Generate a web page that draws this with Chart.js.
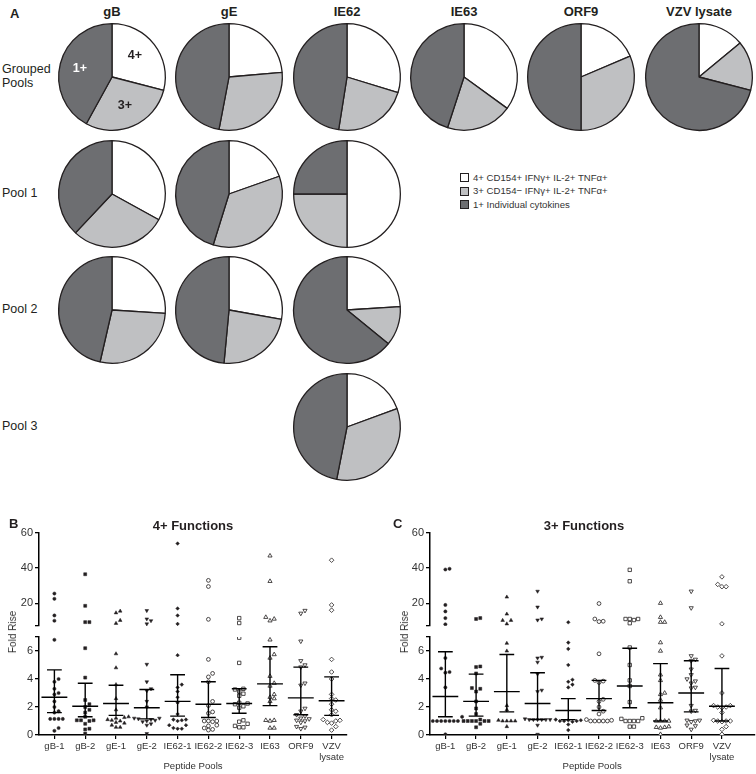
<!DOCTYPE html>
<html>
<head>
<meta charset="utf-8">
<title>VZV polyfunctional T-cell responses</title>
<script src="https://cdn.jsdelivr.net/npm/chart.js@4.4.1/dist/chart.umd.min.js"></script>
<style>
  html, body { margin:0; padding:0; background:#fff; }
  body { width:756px; height:774px; position:relative; overflow:hidden;
         font-family:'Liberation Sans', Arial, Helvetica, sans-serif; color:#231f20; }
  canvas { position:absolute; }
  .t { position:absolute; white-space:nowrap; line-height:1; }
  .c { transform:translate(-50%,-50%); }
  .l { transform:translate(0,-50%); }
  .b { font-weight:bold; }
  .box { position:absolute; width:7px; height:7px; border:1px solid #231f20; }
</style>
</head>
<body>
<script>
// ---------------- DATA ----------------
const antigens = ['gB', 'gE', 'IE62', 'IE63', 'ORF9', 'VZV lysate'];
const subsetLabels = ['4+ CD154+ IFNγ+ IL-2+ TNFα+', '3+ CD154− IFNγ+ IL-2+ TNFα+', '1+ Individual cytokines'];
const pieRowLabels = [['Grouped', 'Pools'], ['Pool 1'], ['Pool 2'], ['Pool 3']];
// percentages per antigen: [4+, 3+, 1+]
const groupedPools = [[29, 29, 42], [23.6, 29.4, 47], [29.7, 22.8, 47.5], [35, 20, 45], [18.6, 31.4, 50], [14, 15, 71]];
const pool1 = [[33, 29, 38], [19.6, 35.2, 45.2], [50, 25, 25]];
const pool2 = [[26, 27.6, 46.4], [27.8, 23.7, 48.5], [24, 11.9, 64.1]];
const pool3 = [null, null, [19.4, 33.7, 46.9]];

const peptidePools = ['gB-1', 'gB-2', 'gE-1', 'gE-2', 'IE62-1', 'IE62-2', 'IE62-3', 'IE63', 'ORF9', ['VZV', 'lysate']];
const yLowTicks = [0, 2, 4, 6];
const yHighTicks = [20, 40, 60];
const axisBreak = 7;

// Panel B: 4+ functions, fold rise per subject
const fold4 = [
  [25.5, 22.5, 13, 10, 6.8, 4.0, 3.8, 3.3, 3.0, 2.9, 2.4, 2.0, 1.7, 1.6, 1.15, 1.15, 1.15, 1.15, 0.5, 0.3],
  [36.5, 18.5, 9.2, 9.2, 6.2, 4.1, 2.5, 2.2, 2.0, 1.8, 1.6, 1.3, 1.05, 1.05, 1.05, 1.0, 0.8, 0.45, 0.4, 0.1],
  [15.5, 14.5, 10.2, 8.5, 5.8, 4.8, 3.6, 2.6, 1.8, 1.3, 1.25, 1.2, 1.1, 1.05, 1.0, 0.9, 0.85, 0.7, 0.55, 0.55],
  [15.8, 11, 10, 8.2, 5.05, 3.8, 3.3, 3.15, 2.4, 2.0, 1.2, 1.2, 1.15, 1.1, 1.05, 1.0, 0.95, 0.8, 0.7, 0.1],
  [54, 17, 13, 8.2, 5.7, 3.6, 3.4, 3.1, 2.7, 2.3, 1.5, 1.1, 1.1, 1.05, 1.0, 0.7, 0.7, 0.5, 0.45, 0.45],
  [33, 29.5, 10.8, 5.4, 4.4, 4.15, 3.8, 2.4, 2.1, 1.65, 1.55, 1.0, 1.0, 1.0, 0.95, 0.7, 0.65, 0.5, 0.4, 0.35],
  [11.5, 8.7, 6.95, 5.15, 3.3, 3.25, 3.1, 2.95, 2.8, 2.3, 2.25, 2.2, 2.05, 1.95, 1.05, 0.95, 0.8, 0.65, 0.55, 0.55],
  [47, 32.5, 12, 11, 10, 6.8, 5.75, 5.5, 4.2, 3.7, 3.5, 2.9, 2.7, 2.6, 2.4, 1.05, 1.0, 1.05, 0.5, 0.5],
  [15.8, 14.2, 6.7, 5.3, 5.0, 4.85, 3.7, 3.55, 1.9, 1.7, 1.45, 1.35, 1.2, 1.15, 1.05, 1.0, 0.9, 0.6, 0.55, 0.45],
  [44.5, 19, 16, 5.4, 4.5, 4.0, 2.9, 2.6, 2.5, 2.2, 1.8, 1.7, 1.45, 1.1, 1.05, 1.0, 0.9, 0.85, 0.6, 0.35]
];
const fold4Center = [2.7, 2.05, 2.25, 1.95, 2.4, 2.2, 2.25, 3.65, 2.65, 2.45];
const fold4High   = [4.65, 3.7, 3.55, 3.25, 4.3, 3.8, 3.3, 6.3, 4.85, 4.15];
const fold4Low    = [1.6, 1.3, 1.4, 1.15, 1.35, 1.25, 1.55, 2.1, 1.45, 1.4];

// Panel C: 3+ functions
const fold3 = [
  [39.2, 39.6, 19, 15.3, 11.5, 8, 5.5, 4.75, 4.5, 4.45, 3.4, 1.3, 1.0, 1.0, 1.0, 1.0, 1.0, 1.0, 1.0, 0.05],
  [11, 11.5, 4.9, 4.85, 4.4, 3.35, 3.3, 3.1, 2.4, 1.9, 1.5, 1.1, 1.0, 1.0, 1.0, 1.0, 1.0, 1.0, 0.8, 0.55],
  [23.5, 13.8, 10.2, 10.2, 8.2, 6.55, 6.0, 2.1, 1.8, 1.05, 1.0, 1.0, 1.0, 1.0, 0.6],
  [26.8, 17.8, 11, 10.4, 5.55, 5.5, 5.2, 4.35, 3.2, 3.1, 1.15, 1.1, 1.1, 1.1, 1.1, 1.1, 1.1, 0.7, 0.05],
  [9.1, 6.6, 6.15, 5.0, 3.95, 3.8, 3.6, 3.4, 1.1, 1.05, 1.05, 1.0, 1.0, 1.0, 0.95, 0.75, 0.35],
  [19.8, 11, 9.7, 9.5, 5.8, 3.9, 3.85, 3.75, 2.55, 2.4, 2.0, 1.7, 1.5, 1.1, 1.05, 1.0, 1.0, 1.0, 1.0, 1.0],
  [39, 32.5, 11, 11, 11, 10.4, 8.6, 6.25, 5.0, 3.9, 3.5, 2.35, 1.2, 1.15, 1.0, 1.0, 1.0, 1.0, 0.6, 0.6],
  [20, 12, 9.2, 9.2, 6.6, 6.0, 4.3, 3.9, 3.0, 2.9, 2.5, 1.95, 1.0, 1.0, 1.0, 1.0, 0.6, 0.55, 0.55, 0.5, 0.05],
  [26.8, 17.3, 5.65, 5.4, 5.3, 4.7, 4.3, 4.0, 3.85, 3.7, 3.4, 3.35, 2.1, 1.75, 1.7, 1.05, 1.0, 1.05, 0.95, 0.7, 0.65, 0.4],
  [35, 30.7, 29.4, 29.4, 8.2, 5.65, 3.0, 2.1, 2.1, 2.0, 2.0, 1.95, 1.6, 1.05, 1.0, 1.0, 1.0, 0.95, 0.6, 0.4, 0.05]
];
const fold3Center = [2.75, 2.4, 3.1, 2.25, 1.75, 2.6, 3.5, 2.3, 3.0, 2.05];
const fold3High   = [5.95, 4.35, 5.75, 4.45, 2.6, 3.9, 6.2, 5.1, 5.3, 4.75];
const fold3Low    = [1.3, 1.35, 1.65, 1.1, 1.1, 1.75, 1.95, 1.0, 1.65, 1.0];

// ---------------- STYLE / LAYOUT ----------------
const FONT = "'Liberation Sans', Arial, Helvetica, sans-serif";
Chart.defaults.font.family = FONT;
Chart.defaults.animation = false;
Chart.defaults.events = [];
Chart.defaults.plugins.legend.display = false;
Chart.defaults.plugins.tooltip.enabled = false;

const subsetColors = ['#ffffff', '#bfc0c2', '#6d6e71'];
const ink = '#231f20';
const pieColX = [112, 229, 347, 464, 581, 699];
const pieRowY = [77, 194, 310, 427];

function addText(txt, x, y, cls, size, extra) {
  const d = document.createElement('div');
  d.className = 't ' + cls;
  d.textContent = txt;
  d.style.left = x + 'px';
  d.style.top = y + 'px';
  d.style.fontSize = size + 'px';
  if (extra) Object.assign(d.style, extra);
  document.body.appendChild(d);
  return d;
}

function addCanvas(left, top, w, h) {
  const cv = document.createElement('canvas');
  cv.width = w; cv.height = h;
  cv.style.left = left + 'px'; cv.style.top = top + 'px';
  cv.style.width = w + 'px'; cv.style.height = h + 'px';
  document.body.appendChild(cv);
  return cv;
}

// ---------------- PANEL A: pies ----------------
function makePie(values, cx, cy) {
  const size = 114;
  const cv = addCanvas(cx - size / 2, cy - size / 2, size, size);
  new Chart(cv, {
    type: 'pie',
    data: { labels: subsetLabels, datasets: [{ data: values, backgroundColor: subsetColors,
            borderColor: ink, borderWidth: 1.3 }] },
    options: { responsive: false, devicePixelRatio: 1, layout: { padding: 3 } }
  });
}
const pieRows = [groupedPools, pool1, pool2, pool3];
pieRows.forEach((row, r) => {
  row.forEach((vals, c) => { if (vals) makePie(vals, pieColX[c], pieRowY[r]); });
});

addText('A', 10, 13, 'l b', 13);
antigens.forEach((a, i) => addText(a, pieColX[i], 11, 'c b', 13));
pieRowLabels.forEach((lines, r) => {
  const n = lines.length;
  lines.forEach((ln, k) => addText(ln, 2, pieRowY[r] - 1 + (k - (n - 1) / 2) * 14, 'l', 12.5));
});
// slice labels on the first pie
addText('4+', 135, 55, 'c b', 12.5);
addText('3+', 125, 105, 'c b', 12.5);
addText('1+', 80, 68, 'c b', 12.5, { color: '#fff' });

// legend
subsetLabels.forEach((lab, i) => {
  const y = 177.5 + i * 13.5;
  const bx = document.createElement('div');
  bx.className = 'box';
  bx.style.left = '460px'; bx.style.top = (y - 4.5) + 'px';
  bx.style.background = subsetColors[i];
  document.body.appendChild(bx);
  addText(lab, 473, y, 'l', 9.6, { color: '#333' });
});

// ---------------- PANELS B & C: scatter with broken axis ----------------
const markerStyles = [
  { pointStyle: 'circle', filled: true, r: 1.6 },
  { pointStyle: 'rect', filled: true, r: 2.1 },
  { pointStyle: 'triangle', filled: true, r: 2.1 },
  { pointStyle: 'triangle', rotation: 180, filled: true, r: 2.1 },
  { pointStyle: 'rectRot', filled: true, r: 1.8 },
  { pointStyle: 'circle', filled: false, r: 1.9 },
  { pointStyle: 'rect', filled: false, r: 2.4 },
  { pointStyle: 'triangle', filled: false, r: 2.4 },
  { pointStyle: 'triangle', rotation: 180, filled: false, r: 2.4 },
  { pointStyle: 'rectRot', filled: false, r: 2.3 }
];

const LOW_PX = 14, HIGH_PX = 1.77, GAP_PX = 11, STEP_PX = 4.2, CAT_PX = 30.85;
function swarmOffsets(col) {
  const py = v => v <= axisBreak ? v * LOW_PX : axisBreak * LOW_PX + GAP_PX + (v - axisBreak) * HIGH_PX;
  const order = col.map((v, k) => k).sort((a, b) => col[a] - col[b]);
  const placed = [];
  const offs = new Array(col.length).fill(0);
  for (const k of order) {
    const y = py(col[k]);
    for (let j = 0; j < 40; j++) {
      const dx = (j === 0 ? 0 : (j % 2 ? 1 : -1) * Math.ceil(j / 2)) * STEP_PX;
      if (placed.every(p => Math.hypot(p.x - dx, p.y - y) >= STEP_PX)) {
        placed.push({ x: dx, y }); offs[k] = dx / CAT_PX; break;
      }
    }
  }
  return offs;
}

function makeScatter(left, top, width, height, padRight, xMax, values, center, high, low) {
  const cv = addCanvas(left, top, width, height);
  const datasets = [];
  values.forEach((col, i) => {
    const offs = swarmOffsets(col);
    const st = markerStyles[i];
    const lowPts = [], highPts = [];
    col.forEach((v, k) => {
      const p = { x: i + offs[k], y: v };
      (v <= axisBreak ? lowPts : highPts).push(p);
    });
    const common = {
      pointStyle: st.pointStyle, rotation: st.rotation || 0, pointRadius: st.r,
      backgroundColor: st.filled ? ink : '#ffffff', borderColor: ink,
      pointBorderWidth: st.filled ? 0.5 : 0.8, showLine: false, order: 2
    };
    datasets.push(Object.assign({ data: lowPts, yAxisID: 'yLow' }, common));
    datasets.push(Object.assign({ data: highPts, yAxisID: 'yHigh' }, common));
  });
  const meanLine = [], errLine = [], capLine = [];
  center.forEach((m, i) => {
    meanLine.push({ x: i - 0.42, y: m }, { x: i + 0.42, y: m }, { x: i + 0.5, y: null });
    errLine.push({ x: i, y: low[i] }, { x: i, y: high[i] }, { x: i + 0.5, y: null });
    capLine.push({ x: i - 0.24, y: high[i] }, { x: i + 0.24, y: high[i] }, { x: i + 0.5, y: null },
                 { x: i - 0.24, y: low[i] }, { x: i + 0.24, y: low[i] }, { x: i + 0.5, y: null });
  });
  [meanLine, errLine, capLine].forEach(d => datasets.push({
    data: d, yAxisID: 'yLow', showLine: true, spanGaps: false, pointRadius: 0,
    borderColor: '#000', borderWidth: 1.4, order: 0
  }));

  const tickFont = { size: 11, family: FONT };
  const yCommon = {
    type: 'linear', position: 'left', stack: 'fold', offset: false,
    grid: { display: true, drawOnChartArea: false, drawTicks: true, tickLength: 4, color: '#000', lineWidth: 1.3 },
    border: { display: true, color: '#000', width: 1.5 },
    ticks: { font: tickFont, color: '#333', padding: 2, includeBounds: false, autoSkip: false,
             callback: v => (v === axisBreak ? '' : String(v)) },
    afterFit: s => { s.width = 39; }
  };
  new Chart(cv, {
    type: 'scatter',
    data: { datasets },
    options: {
      responsive: false, devicePixelRatio: 1,
      layout: { padding: { top: 33, right: padRight, bottom: 0, left: 0 } },
      scales: {
        x: {
          type: 'linear', min: -0.5, max: xMax,
          afterBuildTicks: s => { s.ticks = peptidePools.map((_, i) => ({ value: i })); },
          ticks: { font: { size: 9.5, lineHeight: 1.12, family: FONT }, color: '#333', padding: 2,
                   autoSkip: false, maxRotation: 0, callback: v => peptidePools[v] },
          grid: { display: true, drawOnChartArea: false, drawTicks: true, tickLength: 4, color: '#000', lineWidth: 1.2 },
          border: { display: true, color: '#000', width: 1.5 },
          title: { display: true, text: 'Peptide Pools', color: '#333', font: { size: 9.6, family: FONT },
                   padding: { top: 0, bottom: 2 } },
          afterFit: s => { s.height = 39; }
        },
        yLow: Object.assign({}, yCommon, {
          min: 0, max: axisBreak, stackWeight: 98, weight: 1,
          afterBuildTicks: s => { s.ticks = yLowTicks.concat([axisBreak]).map(v => ({ value: v })); }
        }),
        yGap: {
          type: 'linear', position: 'left', stack: 'fold', stackWeight: 11, weight: 2,
          grid: { display: false }, border: { display: false }, ticks: { display: false },
          afterFit: s => { s.width = 39; }
        },
        yHigh: Object.assign({}, yCommon, {
          min: axisBreak, max: 60, stackWeight: 93, weight: 3,
          afterBuildTicks: s => { s.ticks = [axisBreak].concat(yHighTicks).map(v => ({ value: v })); }
        })
      }
    }
  });
}

makeScatter(0, 500, 378, 274, 31, 9.5, fold4, fold4Center, fold4High, fold4Low);
makeScatter(391, 500, 368, 274, 3, 10.05, fold3, fold3Center, fold3High, fold3Low);

addText('B', 9, 523, 'l b', 13);
addText('C', 393, 523, 'l b', 13);
addText('4+ Functions', 193, 525, 'c b', 13);
addText('3+ Functions', 584, 525, 'c b', 13);
addText('Fold Rise', 13, 632, 'c', 10, { transform: 'translate(-50%,-50%) rotate(-90deg)', color: '#333' });
addText('Fold Rise', 405, 632, 'c', 10, { transform: 'translate(-50%,-50%) rotate(-90deg)', color: '#333' });
</script>
</body>
</html>
